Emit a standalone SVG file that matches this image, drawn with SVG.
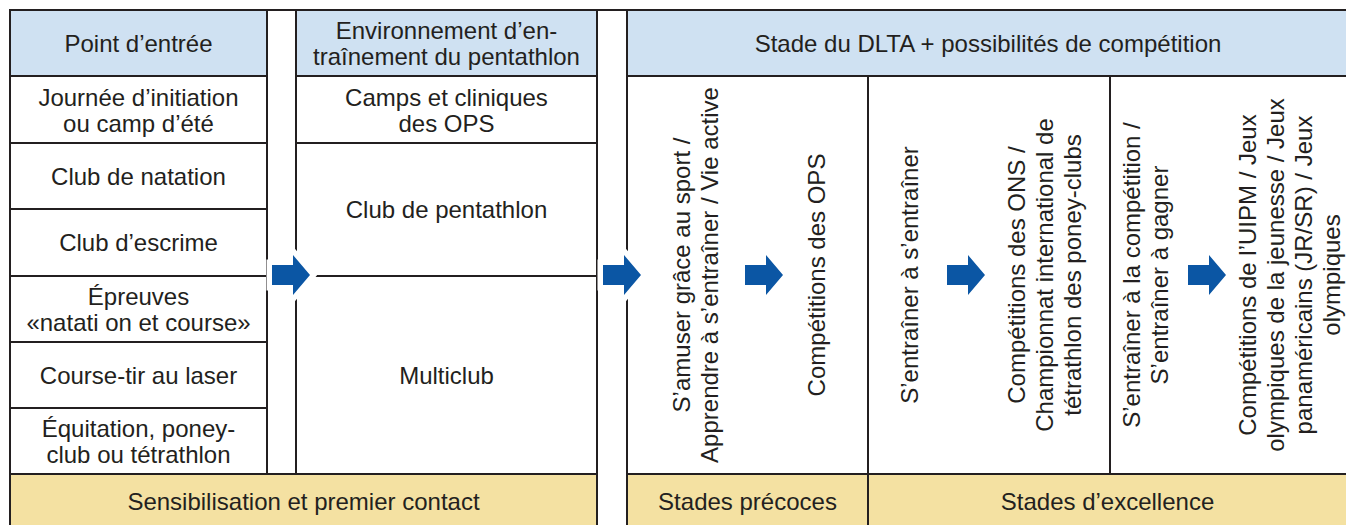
<svg xmlns="http://www.w3.org/2000/svg" xmlns:xlink="http://www.w3.org/1999/xlink" width="1346" height="525" viewBox="0 0 1346 525">
<style>
.t{font-family:"Liberation Sans",Arial,Helvetica,sans-serif;font-size:24px;fill:#231f20;text-anchor:middle}
.c{fill:#ffffff;stroke:#231f20;stroke-width:2}
.h{fill:#cfe1f2;stroke:#231f20;stroke-width:2}
.y{fill:#f4e1a2;stroke:#231f20;stroke-width:2}
.ln{stroke:#231f20;stroke-width:2;fill:none}
.ar{fill:#0b56a4}
.arw{fill:#0b56a4;stroke:#ffffff;stroke-width:11;paint-order:stroke;stroke-linejoin:miter}
</style>
<defs>
<path id="arrow" d="M0,265 H21 V255 L38,275 L21,295 V285 H0 Z"/>
</defs>
<rect x="0" y="0" width="1346" height="525" fill="#ffffff"/>
<line class="ln" x1="10" y1="10" x2="1346" y2="10"/>

<g id="col1-header"><rect class="h" x="10" y="10" width="257" height="66"/><text class="t" x="138.5" y="51.5">Point d’entrée</text></g>
<g id="col1-r1"><rect class="c" x="10" y="76" width="257" height="67"/><text class="t"><tspan x="138.5" y="105.5">Journée d’initiation</tspan><tspan x="138.5" y="131.5">ou camp d’été</tspan></text></g>
<g id="col1-r2"><rect class="c" x="10" y="143" width="257" height="66"/><text class="t" x="138.5" y="184.5">Club de natation</text></g>
<g id="col1-r3"><rect class="c" x="10" y="209" width="257" height="67"/><text class="t" x="138.5" y="251">Club d’escrime</text></g>
<g id="col1-r4"><rect class="c" x="10" y="276" width="257" height="66"/><text class="t"><tspan x="138.5" y="304.5">Épreuves</tspan><tspan x="138.5" y="330.5">«natati on et course»</tspan></text></g>
<g id="col1-r5"><rect class="c" x="10" y="342" width="257" height="66"/><text class="t" x="138.5" y="383.5">Course-tir au laser</text></g>
<g id="col1-r6"><rect class="c" x="10" y="408" width="257" height="66"/><text class="t"><tspan x="138.5" y="436.5">Équitation, poney-</tspan><tspan x="138.5" y="462.5">club ou tétrathlon</tspan></text></g>

<g id="col2-header"><rect class="h" x="296" y="10" width="301" height="66"/><text class="t"><tspan x="446.5" y="38.5">Environnement d’en-</tspan><tspan x="446.5" y="64.5">traînement du pentathlon</tspan></text></g>
<g id="col2-r1"><rect class="c" x="296" y="76" width="301" height="67"/><text class="t"><tspan x="446.5" y="105.5">Camps et cliniques</tspan><tspan x="446.5" y="131.5">des OPS</tspan></text></g>
<g id="col2-r2"><rect class="c" x="296" y="143" width="301" height="133"/><text class="t" x="446.5" y="218">Club de pentathlon</text></g>
<g id="col2-r3"><rect class="c" x="296" y="276" width="301" height="198"/><text class="t" x="446.5" y="383.5">Multiclub</text></g>

<g id="col3-header"><rect class="h" x="627" y="10" width="720" height="66"/><text class="t" x="988" y="51.5">Stade du DLTA + possibilités de compétition</text></g>
<g id="stage-early"><rect class="c" x="627" y="76" width="241" height="398"/>
<g transform="translate(695,275) rotate(-90)"><text class="t"><tspan x="0" y="-5.5">S’amuser grâce au sport /</tspan><tspan x="0" y="22.5">Apprendre à s’entraîner / Vie active</tspan></text></g>
<g transform="translate(816,275) rotate(-90)"><text class="t" x="0" y="8.5">Compétitions des OPS</text></g>
</g>
<g id="stage-t2t"><rect class="c" x="868" y="76" width="242" height="398"/>
<g transform="translate(909,275) rotate(-90)"><text class="t" x="0" y="8.5">S’entraîner à s’entraîner</text></g>
<g transform="translate(1044,275) rotate(-90)"><text class="t"><tspan x="0" y="-19.5">Compétitions des ONS /</tspan><tspan x="0" y="8.5">Championnat international de</tspan><tspan x="0" y="36.5">tétrathlon des poney-clubs</tspan></text></g>
</g>
<g id="stage-t2c"><rect class="c" x="1110" y="76" width="237" height="398"/>
<g transform="translate(1145.5,275) rotate(-90)"><text class="t"><tspan x="0" y="-5.5">S’entraîner à la compétition /</tspan><tspan x="0" y="22.5">S’entraîner à gagner</tspan></text></g>
<g transform="translate(1289,275) rotate(-90)"><text class="t"><tspan x="0" y="-33.5">Compétitions de l’UIPM / Jeux</tspan><tspan x="0" y="-5.5">olympiques de la jeunesse / Jeux</tspan><tspan x="0" y="22.5">panaméricains (JR/SR) / Jeux</tspan><tspan x="0" y="50.5">olympiques</tspan></text></g>
</g>

<g id="band-awareness"><rect class="y" x="10" y="474" width="587" height="60"/><text class="t" x="303.5" y="510">Sensibilisation et premier contact</text></g>
<g id="band-early"><rect class="y" x="627" y="474" width="241" height="60"/><text class="t" x="747.5" y="510">Stades précoces</text></g>
<g id="band-excellence"><rect class="y" x="868" y="474" width="479" height="60"/><text class="t" x="1107.5" y="510">Stades d’excellence</text></g>

<g id="connectors">
<use xlink:href="#arrow" href="#arrow" class="arw" transform="translate(272,0)"/>
<use xlink:href="#arrow" href="#arrow" class="arw" transform="translate(603,0)"/>
<use xlink:href="#arrow" href="#arrow" class="ar" transform="translate(745,0)"/>
<use xlink:href="#arrow" href="#arrow" class="ar" transform="translate(947,0)"/>
<use xlink:href="#arrow" href="#arrow" class="ar" transform="translate(1188,0)"/>
</g>
</svg>
